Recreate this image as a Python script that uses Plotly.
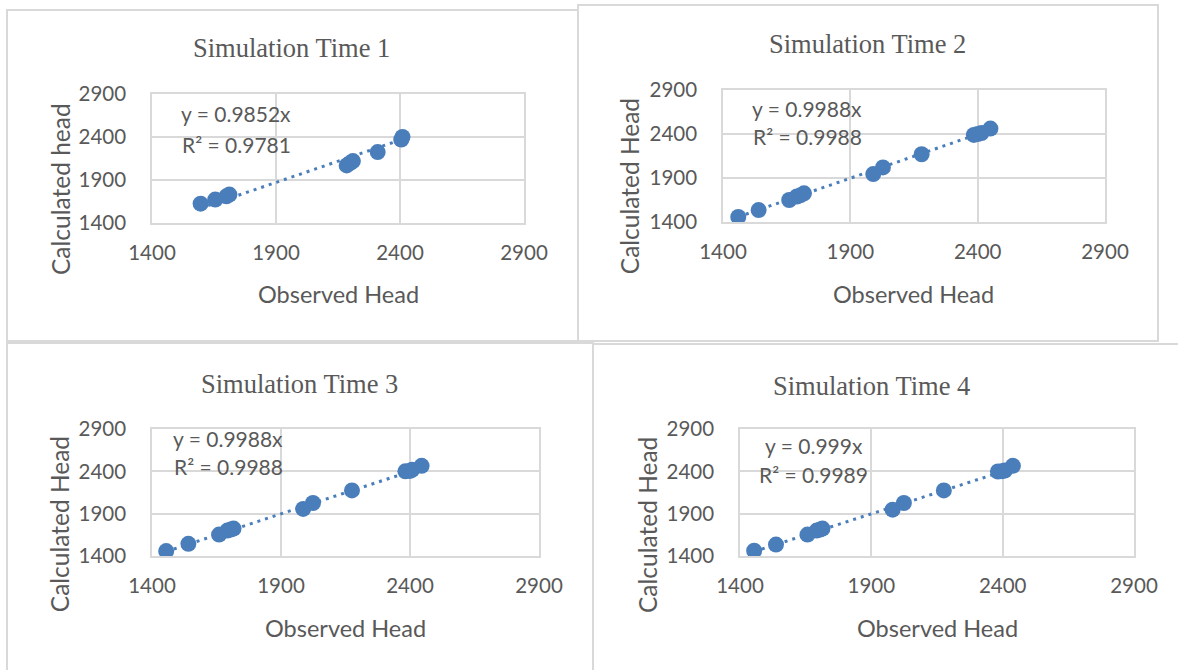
import plotly.graph_objects as go

# ---------------- data ----------------
TITLES = ["Simulation Time 1", "Simulation Time 2", "Simulation Time 3", "Simulation Time 4"]
Y_TITLES = ["Calculated head", "Calculated Head", "Calculated Head", "Calculated Head"]
X_TITLE = "Observed Head"
SLOPES = [0.9852, 0.9988, 0.9988, 0.999]
R2 = [0.9781, 0.9988, 0.9988, 0.9989]
TICKS = [1400, 1900, 2400, 2900]

OBS_T1 = [1596, 1655, 1700, 1712, 2185, 2200, 2210, 2310, 2405, 2410]
CALC_T1 = [1625, 1672, 1710, 1730, 2070, 2100, 2120, 2225, 2370, 2400]

OBS_T2 = [1460, 1540, 1660, 1690, 1705, 1718, 1990, 2028, 2180, 2385, 2400, 2415, 2450]
CALC_T2 = [1458, 1535, 1650, 1690, 1705, 1726, 1945, 2020, 2170, 2390, 2400, 2410, 2462]

OBS_T3 = [1455, 1541, 1660, 1692, 1705, 1716, 1986, 2024, 2175, 2382, 2400, 2408, 2445]
CALC_T3 = [1458, 1544, 1653, 1700, 1712, 1724, 1956, 2026, 2175, 2400, 2405, 2418, 2465]

OBS_T4 = [1454, 1537, 1657, 1692, 1705, 1714, 1981, 2024, 2176, 2382, 2398, 2408, 2439]
CALC_T4 = [1462, 1535, 1653, 1700, 1712, 1724, 1947, 2026, 2175, 2398, 2402, 2410, 2465]

OBS = [OBS_T1, OBS_T2, OBS_T3, OBS_T4]
CALC = [CALC_T1, CALC_T2, CALC_T3, CALC_T4]

# ---------------- layout geometry (pixels) ----------------
W, H = 1178, 670
BLUE = "#4a7ebb"
GREY_TXT = "#595959"
GRID = "#d9d9d9"
SANS = "Lato, Carlito, Calibri, 'Open Sans', sans-serif"
SERIF = "'Liberation Serif', 'Times New Roman', serif"

def fx(x):
    return x / W

def fy(y):
    return 1 - y / H

# plot areas: (left, right, top, bottom)
PLOTS = [(152, 524, 94, 223), (723, 1105, 90, 222), (152, 539, 429, 556), (740, 1134, 429, 556)]
# panel borders: (left, right, top, bottom)
PANELS = [(7, 578, 10, 341), (578, 1158, 5, 341), (7, 593, 343, 672), (593, 1180, 344, 672)]
TITLE_POS = [(291, 48), (867, 44), (299, 383.5), (871, 385.5)]
XT_POS = [(338, 294), (913, 294), (345, 627.5), (937, 627.5)]
YT_POS = [(60.5, 189.5), (629.5, 186.7), (59.5, 524.7), (647, 525)]
EQ_POS = [(236, 114, 144), (807, 108, 137), (228, 438, 466), (813.5, 445, 474)]

fig = go.Figure()
annotations = []
shapes = []

for i in range(4):
    xa = "x" if i == 0 else f"x{i+1}"
    ya = "y" if i == 0 else f"y{i+1}"
    l, r, t, b = PLOTS[i]
    xs = OBS[i]
    ys = CALC[i]
    # trendline (through origin, Excel style), over data x-range
    xmin, xmax = min(xs), max(xs)
    fig.add_trace(go.Scatter(
        x=[xmin, xmax], y=[SLOPES[i] * xmin, SLOPES[i] * xmax],
        mode="lines", line=dict(color=BLUE, width=3, dash="3px,5px"),
        xaxis=xa, yaxis=ya, showlegend=False, hoverinfo="skip"))
    fig.add_trace(go.Scatter(
        x=xs, y=ys, mode="markers",
        marker=dict(color=BLUE, size=16, line=dict(width=0)),
        xaxis=xa, yaxis=ya, showlegend=False))

    axis_common = dict(
        range=[1400, 2900], tickvals=TICKS, ticktext=[str(v) for v in TICKS],
        showgrid=True, gridcolor=GRID, gridwidth=1.5, zeroline=False,
        showline=True, linecolor=GRID, linewidth=1.5, mirror=True,
        tickfont=dict(family=SANS, size=20.5, color=GREY_TXT),
        ticks="", fixedrange=True, automargin=False,
    )
    key_x = "xaxis" if i == 0 else f"xaxis{i+1}"
    key_y = "yaxis" if i == 0 else f"yaxis{i+1}"
    fig.layout[key_x] = dict(axis_common, domain=[fx(l), fx(r)], anchor=ya, ticklabelstandoff=11)
    fig.layout[key_y] = dict(axis_common, domain=[fy(b), fy(t)], anchor=xa, ticklabelstandoff=20)

    # panel border
    pl, pr, pt, pb = PANELS[i]
    shapes.append(dict(type="rect", xref="paper", yref="paper",
                       x0=fx(pl), x1=fx(pr), y0=fy(pb), y1=fy(pt),
                       line=dict(color=GRID, width=2), fillcolor="rgba(0,0,0,0)", layer="below"))

    tx, ty = TITLE_POS[i]
    annotations.append(dict(text=TITLES[i], x=fx(tx), y=fy(ty), xref="paper", yref="paper",
                            xanchor="center", yanchor="middle", showarrow=False,
                            font=dict(family=SERIF, size=26.5, color=GREY_TXT)))
    ax_, ay_ = XT_POS[i]
    annotations.append(dict(text=X_TITLE, x=fx(ax_), y=fy(ay_), xref="paper", yref="paper",
                            xanchor="center", yanchor="middle", showarrow=False,
                            font=dict(family=SANS, size=23.5, color=GREY_TXT)))
    yx, yy = YT_POS[i]
    annotations.append(dict(text=Y_TITLES[i], x=fx(yx), y=fy(yy), xref="paper", yref="paper",
                            xanchor="center", yanchor="middle", showarrow=False, textangle=-90,
                            font=dict(family=SANS, size=24.5, color=GREY_TXT)))
    ex, ey1, ey2 = EQ_POS[i]
    annotations.append(dict(text=f"y = {SLOPES[i]}x", x=fx(ex), y=fy(ey1), xref="paper", yref="paper",
                            xanchor="center", yanchor="middle", showarrow=False,
                            font=dict(family=SANS, size=21, color=GREY_TXT)))
    annotations.append(dict(text=f"R² = {R2[i]}", x=fx(ex), y=fy(ey2), xref="paper", yref="paper",
                            xanchor="center", yanchor="middle", showarrow=False,
                            font=dict(family=SANS, size=21, color=GREY_TXT)))

fig.update_layout(
    width=W, height=H, autosize=False,
    margin=dict(l=0, r=0, t=0, b=0, pad=0, autoexpand=False),
    paper_bgcolor="white", plot_bgcolor="white",
    annotations=annotations, shapes=shapes,
    showlegend=False,
)

# remove the default 8px page margin so the figure sits at the window origin
fig.write_html("out.html", include_plotlyjs=True, config={"displayModeBar": False},
               post_script="document.body.style.margin='0';document.body.style.overflow='hidden';")
